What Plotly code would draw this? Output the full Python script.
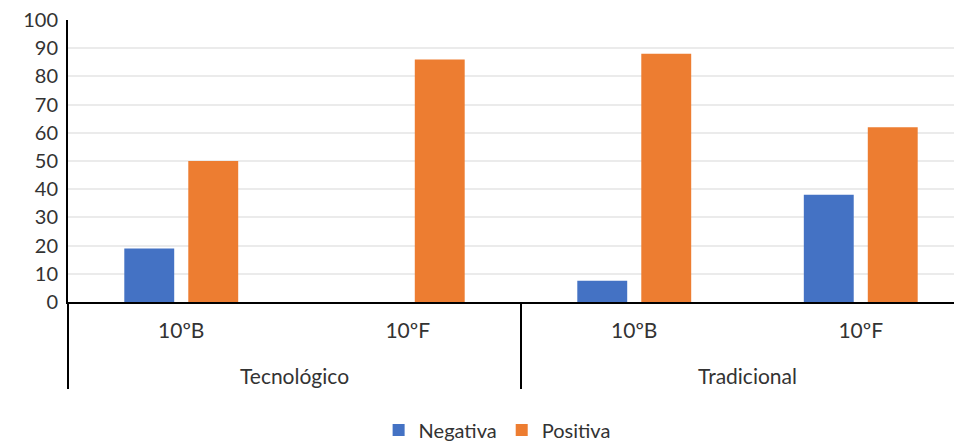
import plotly.graph_objects as go

grupos = ["Tecnológico", "Tecnológico", "Tradicional", "Tradicional"]
turmas = ["10ºB", "10ºF", "10ºB", "10ºF"]
negativa = [19, 0, 7.5, 38]
positiva = [50, 86, 88, 62]
y_ticks = list(range(0, 101, 10))

AZUL = "#4472C4"
LARANJA = "#ED7D31"
FONTE = "Lato, 'Open Sans', sans-serif"
COR_TEXTO = "#333333"

# segunda linha de rótulos um pouco mais abaixo, como no Excel
grupos_txt = ["<br>" + g for g in grupos]

fig = go.Figure()
fig.add_trace(go.Bar(x=[grupos_txt, turmas], y=negativa, name="Negativa",
                     marker=dict(color=AZUL, line=dict(width=0))))
fig.add_trace(go.Bar(x=[grupos_txt, turmas], y=positiva, name="Positiva",
                     marker=dict(color=LARANJA, line=dict(width=0))))

# a página tem 8px de margem no body, por isso 954x433
fig.update_layout(
    width=954,
    height=433,
    barmode="group",
    bargap=0.435,
    bargroupgap=0.22,
    plot_bgcolor="white",
    paper_bgcolor="white",
    font=dict(family=FONTE, size=20, color=COR_TEXTO),
    margin=dict(l=60, r=0, t=12, b=139, autoexpand=False),
    legend=dict(orientation="h", x=0.48, xanchor="center", y=-0.454, yanchor="middle",
                font=dict(size=20, color=COR_TEXTO), traceorder="normal"),
    showlegend=True,
)
fig.update_xaxes(
    type="multicategory",
    range=[-0.5, 3.447],
    automargin=False,
    showline=True,
    linecolor="black",
    linewidth=2,
    showgrid=False,
    ticks="",
    ticklabelstandoff=9,
    showdividers=True,
    dividercolor="black",
    dividerwidth=2,
    tickfont=dict(size=21, color=COR_TEXTO),
)
fig.update_yaxes(
    range=[0, 100],
    tickvals=y_ticks,
    automargin=False,
    showline=True,
    linecolor="black",
    linewidth=2,
    gridcolor="#EBEBEB",
    gridwidth=1.5,
    zeroline=False,
    ticks="",
    ticklabelstandoff=4,
    ticklabeloverflow="allow",
    tickfont=dict(size=20, color=COR_TEXTO),
)

fig.write_html("out.html")
